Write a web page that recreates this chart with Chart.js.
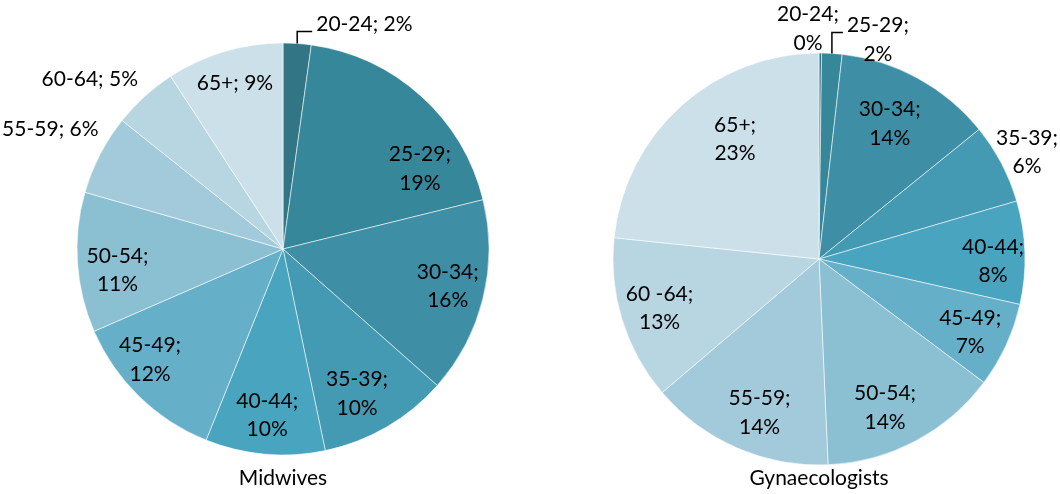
<!DOCTYPE html>
<html><head><meta charset="utf-8">
<script src="https://cdn.jsdelivr.net/npm/chart.js@4/dist/chart.umd.min.js"></script>
<style>
html,body{margin:0;padding:0;background:#fff;}
#wrap{position:relative;width:1060px;height:494px;}
canvas{position:absolute;top:0;}
</style></head>
<body><div id="wrap"><canvas id="c1" width="530" height="494" style="left:0"></canvas><canvas id="c2" width="530" height="494" style="left:530px"></canvas></div>
<script>
// ---- data ----
const midwifeCategories = ['20-24','25-29','30-34','35-39','40-44','45-49','50-54','55-59','60-64','65+'];
const midwifeValues     = [2.2, 19.0, 15.4, 10.2, 9.4, 12.4, 11.0, 6.3, 5.1, 9.2];
const midwifePctLabels  = [2, 19, 16, 10, 10, 12, 11, 6, 5, 9];
const gynCategories = ['20-24','25-29','30-34','35-39','40-44','45-49','50-54','55-59','60 -64','65+'];
const gynValues     = [0.2, 1.6, 12.4, 6.3, 8.1, 6.7, 14.1, 14.5, 12.9, 23.4];
const gynPctLabels  = [0, 2, 14, 6, 8, 7, 14, 14, 13, 23];
const chartTitles = ['Midwives', 'Gynaecologists'];

const sliceColors = ['#327686','#37879A','#3E8FA5','#4499B3','#49A4C0','#65AFC8','#8BC0D3','#A3CADB','#B8D6E2','#CCE0E9'];
const FONT = 'Lato, "Open Sans", sans-serif';
const FS = 21, LH = 28.5;

const labelPlugin = {
  id: 'sliceLabels',
  afterDatasetsDraw(chart, args, opts) {
    const ctx = chart.ctx;
    const meta = chart.getDatasetMeta(0);
    const cats = chart.data.labels;
    const pct = opts.pct;
    ctx.save();
    ctx.font = FS + 'px ' + FONT;
    ctx.fillStyle = '#000';
    ctx.textBaseline = 'middle';
    ctx.textAlign = 'center';
    let cx0 = 0;
    meta.data.forEach((arc, i) => {
      const p = opts.place[i];
      const {x, y, startAngle, endAngle, outerRadius} = arc.getProps(['x','y','startAngle','endAngle','outerRadius'], true);
      cx0 = x;
      const mid = (startAngle + endAngle) / 2;
      const lines = p.split ? [cats[i] + ';', pct[i] + '%'] : [cats[i] + '; ' + pct[i] + '%'];
      if (p.leader) {
        const ex = x + Math.cos(mid) * outerRadius, ey = y + Math.sin(mid) * outerRadius;
        const ty = ey - p.leader.rise, tx = ex + p.leader.run;
        ctx.strokeStyle = '#000'; ctx.lineWidth = 1.5;
        ctx.beginPath(); ctx.moveTo(ex, ey); ctx.lineTo(ex, ty); ctx.lineTo(tx, ty); ctx.stroke();
        const w = Math.max(...lines.map(l => ctx.measureText(l).width));
        const bx = tx + p.leader.gap + w / 2;
        lines.forEach((l, k) => ctx.fillText(l, bx, ty - p.leader.up + k * LH));
      } else {
        const a = mid + p.da * Math.PI / 180;
        const px = x + Math.cos(a) * outerRadius * p.r, py = y + Math.sin(a) * outerRadius * p.r;
        lines.forEach((l, k) => ctx.fillText(l, px, py + (k - (lines.length - 1) / 2) * LH));
      }
    });
    ctx.fillText(opts.title, cx0, chart.height - 16);
    ctx.restore();
  }
};

function makeChart(id, cats, vals, pct, title, pad, place) {
  return new Chart(document.getElementById(id), {
    type: 'pie',
    data: { labels: cats, datasets: [{ data: vals, backgroundColor: sliceColors, borderColor: 'rgba(255,255,255,0.55)', borderWidth: 1, radius: 206 }] },
    options: {
      responsive: false, animation: false, events: [],
      layout: { padding: pad },
      plugins: { legend: { display: false }, tooltip: { enabled: false }, title: { display: false },
        sliceLabels: { pct: pct, place: place, title: title } }
    },
    plugins: [labelPlugin]
  });
}

makeChart('c1', midwifeCategories, midwifeValues, midwifePctLabels, chartTitles[0],
  { left: 77, right: 41, top: 43, bottom: 39 },
  [
    { leader: { rise: 12, run: 15, gap: 4, up: 7.5 } },
    { split: true, da: 17.6, r: 0.77 },
    { split: true, da: -1.1, r: 0.82 },
    { split: true, da: 3.1, r: 0.79 },
    { split: true, da: 0.4, r: 0.81 },
    { split: true, da: 6.0, r: 0.84 },
    { split: true, da: -3.6, r: 0.81 },
    { da: -0.1, r: 1.27 },
    { da: -6.4, r: 1.25 },
    { da: 0.4, r: 0.84 }
  ]);

makeChart('c2', gynCategories, gynValues, gynPctLabels, chartTitles[1],
  { left: 83, right: 35, top: 53, bottom: 29 },
  [
    { split: true, da: -3.1, r: 1.12 },
    { split: true, leader: { rise: 21, run: 11, gap: 4, up: 7 } },
    { split: true, da: -1.1, r: 0.74 },
    { split: true, da: 0.5, r: 1.135 },
    { split: true, da: 2.5, r: 0.845 },
    { split: true, da: 1.0, r: 0.815 },
    { split: true, da: 3.9, r: 0.79 },
    { split: true, da: -2.4, r: 0.8 },
    { split: true, da: 0.1, r: 0.81 },
    { split: true, da: 7.0, r: 0.71 }
  ]);
</script>
</body></html>
